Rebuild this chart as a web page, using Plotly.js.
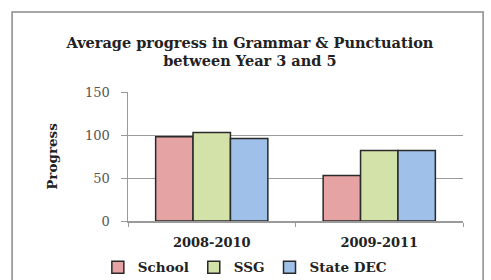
<!DOCTYPE html>
<html><head><meta charset="utf-8">
<script src="https://cdn.plot.ly/plotly-3.0.1.min.js"></script>
<style>html,body{margin:0;padding:0;background:#fff;}#chart{width:491px;height:280px;}</style>
</head><body><div id="chart"></div>
<script>
const categories = ["2008-2010", "2009-2011"];
const seriesNames = ["School", "SSG", "State DEC"];
const schoolValues = [98, 53];
const ssgValues = [103, 82];
const stateValues = [96, 82];
const yTickValues = [0, 50, 100, 150];

const colors = ["#e6a3a3", "#d3e2a9", "#9fc0e8"];
const allValues = [schoolValues, ssgValues, stateValues];
const serif = "DejaVu Serif";

const traces = allValues.map((vals, i) => ({
  type: "bar",
  name: seriesNames[i],
  x: categories,
  y: vals,
  marker: {color: colors[i], line: {color: "#2a2a2a", width: 1.5}},
  hoverinfo: "none"
}));

const layout = {
  width: 491, height: 280,
  margin: {l: 128, r: 28, t: 92, b: 59, autoexpand: false},
  paper_bgcolor: "#ffffff",
  plot_bgcolor: "#ffffff",
  barmode: "group",
  bargap: 0.33,
  bargroupgap: 0,
  showlegend: true,
  title: {
    text: "Average progress in Grammar & Punctuation<br>between Year 3 and 5",
    font: {family: serif, size: 14.5, color: "#222", weight: "bold"},
    x: 0.509, xanchor: "center", xref: "container",
    y: 0.83, yanchor: "top", yref: "container"
  },
  xaxis: {
    type: "category",
    showline: true, linecolor: "#9a9a9a", linewidth: 1.5,
    ticks: "outside", tickson: "boundaries", ticklen: 4, tickcolor: "#9a9a9a",
    tickfont: {family: serif, size: 13, color: "#222", weight: "bold"},
    ticklabelstandoff: 9,
    showgrid: false, zeroline: false, fixedrange: true, automargin: false
  },
  yaxis: {
    range: [0, 150],
    tickvals: yTickValues,
    ticktext: yTickValues.map(String),
    showline: true, linecolor: "#9a9a9a", linewidth: 1.5,
    ticks: "outside", ticklen: 6, tickcolor: "#9a9a9a",
    ticklabelstandoff: 8,
    showgrid: true, gridcolor: "#9a9a9a", gridwidth: 1,
    zeroline: false,
    tickfont: {family: serif, size: 13, color: "#555"},
    title: {text: "Progress", font: {family: serif, size: 13.5, color: "#222", weight: "bold"}, standoff: 24},
    fixedrange: true, automargin: false
  },
  legend: {
    orientation: "h",
    x: -0.09, xanchor: "left", xref: "paper",
    y: -0.36, yanchor: "middle", yref: "paper",
    itemwidth: 30,
    font: {family: serif, size: 13.5, color: "#222", weight: "bold"},
    bgcolor: "rgba(0,0,0,0)"
  },
  shapes: [{
    type: "rect", xref: "paper", yref: "paper",
    x0: -0.346, x1: 1.06, y0: -0.6, y1: 1.62,
    line: {color: "#8a8a8a", width: 1.5}, fillcolor: "rgba(0,0,0,0)", layer: "below"
  }]
};

Plotly.newPlot("chart", traces, layout, {displayModeBar: false, staticPlot: true});
</script></body></html>
